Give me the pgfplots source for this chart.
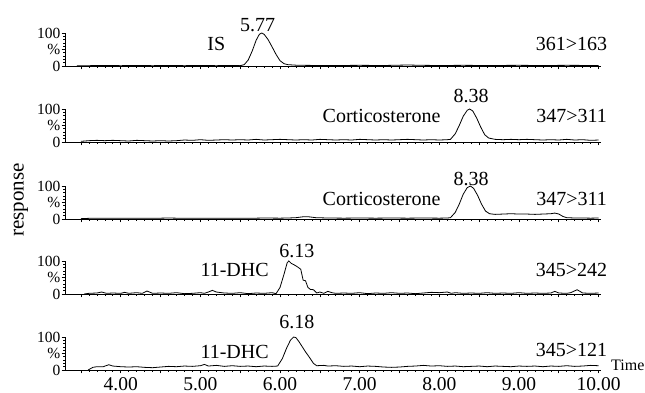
\documentclass[border=0pt]{standalone}
\usepackage{fontspec}
\setmainfont{Liberation Serif}
\usepackage{pgfplots}
\pgfplotsset{compat=1.18}
\pgfplotsset{
  panel/.style={
    scale only axis, width=536pt, height=33pt,
    xmin=3.3, xmax=10.03, ymin=0, ymax=100,
    axis x line*=bottom, axis y line*=left,
    axis line style={-, line width=0.8pt},
    xtick={3.5,4,...,10}, minor x tick num=4,
    xticklabels={},
    ytick={0,50,100}, yticklabels={0,\%,100},
    minor ytick={10,20,30,40,60,70,80,90},
    tick align=outside,
    major tick length=3.5pt, minor tick length=2pt,
    every tick/.style={black, line width=0.6pt},
    yticklabel style={font=\fontsize{15.5}{16}\selectfont, inner sep=1pt},
    xticklabel style={font=\fontsize{19.5}{20}\selectfont},
    /pgf/number format/assume math mode=true,
    clip=false,
    anchor=south west,
  },
}
\tikzset{lbl/.style={font=\fontsize{20}{22}\selectfont, anchor=base, inner sep=0pt}}
\newcommand{\trace}{\addplot[black, line width=0.8pt, no marks]}
\begin{document}
\begin{tikzpicture}
\useasboundingbox (0,0) rectangle (645pt,393pt);
% Panel 1
\begin{axis}[panel, at={(65pt,327pt)}]
\trace coordinates {(3.45,0.5)(3.6,1)(3.8,1.5)(4.0,1)(4.2,1.5)(4.4,1)(4.6,1.5)(4.8,1)(5.0,1.5)(5.2,1)(5.4,1.5)(5.5,1)(5.55,4)(5.6,18)(5.65,45)(5.7,78)(5.74,96)(5.77,100)(5.8,96)(5.85,80)(5.9,58)(5.95,35)(6.0,16)(6.05,7)(6.1,4)(6.2,2.5)(6.3,2)(6.5,1.5)(6.7,1.5)(7.0,2)(7.3,1.5)(7.6,3)(7.8,2)(8.0,1.5)(8.3,2)(8.6,1.5)(9.0,2)(9.3,1.5)(9.6,2)(10.0,1.5)};
\node[lbl] at (axis cs:5.72,104) {5.77};
\node[lbl] at (axis cs:5.2,46) {IS};
\node[lbl] at (axis cs:9.66,47) {361>163};
\end{axis}
% Panel 2
\begin{axis}[panel, at={(65pt,251pt)}]
\trace coordinates {(3.5,2)(3.6,4)(3.7,5)(3.8,4)(3.9,5)(4.0,4)(4.1,3)(4.2,5)(4.3,4)(4.4,3)(4.5,4)(4.6,3)(4.7,4)(4.8,6)(4.9,5)(5.0,7)(5.1,5)(5.2,6)(5.3,7)(5.4,6)(5.5,7)(5.6,6)(5.7,8)(5.8,6)(5.9,7)(6.0,8)(6.1,7)(6.2,6)(6.3,7)(6.4,6)(6.5,8)(6.6,7)(6.7,6)(6.8,7)(6.9,6)(7.0,8)(7.1,7)(7.2,6)(7.3,7)(7.4,6)(7.5,7)(7.6,8)(7.7,7)(7.8,6)(7.9,7)(8.0,6)(8.1,7)(8.14,8)(8.2,25)(8.25,50)(8.3,78)(8.35,96)(8.38,100)(8.42,94)(8.47,72)(8.52,45)(8.57,22)(8.62,12)(8.7,8)(8.8,7)(8.9,8)(9.0,7)(9.1,8)(9.2,7)(9.3,6)(9.4,7)(9.5,6)(9.6,8)(9.7,6)(9.8,7)(9.9,5)(10.0,6)};
\node[lbl] at (axis cs:8.40,121) {8.38};
\node[lbl] at (axis cs:7.275,58) {Corticosterone};
\node[lbl] at (axis cs:9.66,58) {347>311};
\end{axis}
% Panel 3
\begin{axis}[panel, at={(65pt,174pt)}]
\trace coordinates {(3.5,1)(3.6,2)(3.8,2.5)(4.0,2)(4.2,2.5)(4.4,2)(4.6,3)(4.8,2)(5.0,2.5)(5.2,2)(5.4,2.5)(5.6,2)(5.8,3)(6.0,2.5)(6.1,3)(6.2,4)(6.3,7)(6.35,7)(6.45,4)(6.6,3)(6.8,2.5)(7.0,3)(7.2,2.5)(7.4,3)(7.6,2.5)(7.8,3)(8.0,2.5)(8.1,3)(8.14,4)(8.2,20)(8.25,45)(8.3,75)(8.35,95)(8.39,100)(8.43,93)(8.48,72)(8.53,45)(8.58,24)(8.63,16)(8.7,14)(8.8,15)(8.9,16)(9.0,15)(9.1,15)(9.2,14)(9.3,15)(9.4,16)(9.45,18)(9.5,15)(9.55,8)(9.6,4)(9.7,3)(9.8,3)(9.9,2.5)(10.0,3)};
\node[lbl] at (axis cs:8.40,103) {8.38};
\node[lbl] at (axis cs:7.275,41) {Corticosterone};
\node[lbl] at (axis cs:9.66,41) {347>311};
\end{axis}
% Panel 4
\begin{axis}[panel, at={(65pt,99pt)}]
\trace coordinates {(3.54,0)(3.6,2)(3.7,3)(3.76,6)(3.82,2)(3.9,3)(4.0,2)(4.05,5)(4.1,2)(4.2,4)(4.27,2)(4.33,9)(4.4,2)(4.5,3)(4.6,2)(4.7,4)(4.8,1)(4.9,2)(5.0,4)(5.05,2)(5.1,6)(5.15,11)(5.2,6)(5.3,3)(5.4,2)(5.5,4)(5.6,1)(5.7,3)(5.8,2)(5.9,4)(5.95,1)(6.0,20)(6.05,60)(6.09,95)(6.11,100)(6.14,93)(6.18,88)(6.22,82)(6.26,75)(6.29,42)(6.32,40)(6.35,20)(6.38,14)(6.42,13)(6.46,3)(6.5,6)(6.55,2)(6.6,8)(6.65,4)(6.7,2)(6.8,3)(6.9,2)(7.0,4)(7.1,1)(7.2,3)(7.3,2)(7.4,4)(7.5,2)(7.6,3)(7.7,1)(7.8,3)(7.9,5)(8.0,4)(8.1,6)(8.15,2)(8.2,4)(8.3,2)(8.4,3)(8.5,2)(8.6,4)(8.7,2)(8.8,3)(8.9,2)(9.0,4)(9.1,2)(9.2,3)(9.3,2)(9.4,3)(9.45,8)(9.5,3)(9.6,2)(9.65,4)(9.73,13)(9.8,3)(9.9,2)(10.0,3)};
\node[lbl] at (axis cs:6.21,112) {6.13};
\node[lbl] at (axis cs:5.43,52) {11-DHC};
\node[lbl] at (axis cs:9.66,53) {345>242};
\end{axis}
% Panel 5
\begin{axis}[panel, at={(65pt,23pt)},
  xticklabels={{},4.00,{},5.00,{},6.00,{},7.00,{},8.00,{},9.00,{},10.00}]
\trace coordinates {(3.59,0)(3.65,8)(3.7,10)(3.78,10)(3.85,16)(3.9,12)(4.0,10)(4.1,9)(4.2,10)(4.3,8)(4.4,7)(4.5,9)(4.6,11)(4.7,10)(4.8,12)(4.9,11)(5.0,13)(5.05,17)(5.1,12)(5.2,14)(5.3,11)(5.4,13)(5.5,11)(5.6,12)(5.7,10)(5.8,12)(5.9,11)(5.97,12)(6.03,35)(6.08,65)(6.13,90)(6.17,100)(6.2,98)(6.24,85)(6.28,70)(6.32,55)(6.37,38)(6.42,20)(6.46,13)(6.55,14)(6.6,12)(6.7,13)(6.8,11)(6.9,12)(7.0,10)(7.1,12)(7.2,11)(7.3,9)(7.4,8)(7.5,9)(7.6,11)(7.7,12)(7.8,14)(7.9,12)(8.0,13)(8.1,11)(8.2,12)(8.3,10)(8.4,11)(8.5,12)(8.6,10)(8.7,12)(8.8,11)(8.9,10)(9.0,12)(9.1,11)(9.2,12)(9.3,10)(9.4,12)(9.5,11)(9.6,13)(9.7,11)(9.8,12)(9.9,14)(10.0,13)};
\node[lbl] at (axis cs:6.21,125) {6.18};
\node[lbl] at (axis cs:5.43,35) {11-DHC};
\node[lbl] at (axis cs:9.66,40) {345>121};
\end{axis}
\node[font=\fontsize{16}{18}\selectfont, anchor=base west, inner sep=0pt] at (611pt,22pt) {Time};
\node[font=\fontsize{21}{23}\selectfont, rotate=90] at (21pt,193pt) {response};
\end{tikzpicture}
\end{document}
